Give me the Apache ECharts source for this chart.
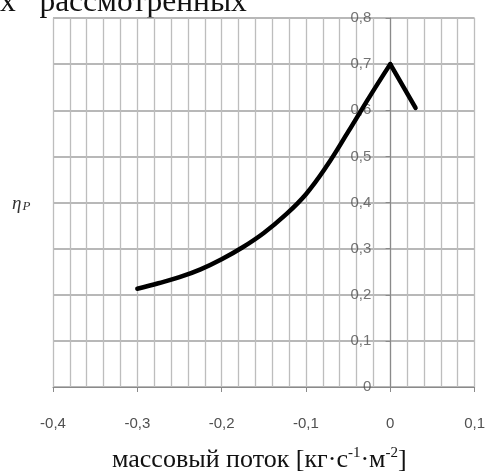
<!DOCTYPE html>
<html>
<head>
<meta charset="utf-8">
<script src="https://cdn.jsdelivr.net/npm/echarts@6/dist/echarts.min.js"></script>
<style>
  html, body { margin: 0; padding: 0; background: #fff; }
  #chart { width: 488px; height: 473px; }
</style>
</head>
<body>
<div id="chart"></div>
<script>
// Efficiency vs. mass flux: rising branch up to the peak at zero flux, then a short falling branch
const fluxRise = [-0.3, -0.275, -0.25, -0.225, -0.2, -0.175, -0.15, -0.125, -0.1, -0.075, -0.05, -0.025, 0];
const etaRise  = [0.213, 0.225, 0.238, 0.255, 0.277, 0.303, 0.334, 0.372, 0.418, 0.480, 0.553, 0.628, 0.70];
const fluxFall = [0, 0.03];
const etaFall  = [0.70, 0.605];

const xTicks = [-0.4, -0.3, -0.2, -0.1, 0, 0.1];
const yTicks = [0, 0.1, 0.2, 0.3, 0.4, 0.5, 0.6, 0.7, 0.8];

const fmt = v => String(Math.round(v * 10) / 10).replace('.', ',');

// plot area
const W = 488, H = 473;
const gridLeft = 53, gridRight = 13, gridTop = 18, gridBottom = 86;
const xMin = xTicks[0], xMax = xTicks[xTicks.length - 1];
// the vertical axis crosses the horizontal one at flux = 0
const yAxisShift = (0 - xMin) / (xMax - xMin) * (W - gridLeft - gridRight);

const chart = echarts.init(document.getElementById('chart'), null, { renderer: 'canvas' });

const gridColV = '#bdbdbd';
const gridColH = '#a0a0a0';
const axisCol = '#8a8a8a';
const labelFont = { color: '#505050', fontFamily: 'Liberation Sans', fontSize: 15 };

chart.setOption({
  animation: false,
  backgroundColor: '#ffffff',
  grid: { left: gridLeft, right: gridRight, top: gridTop, bottom: gridBottom, containLabel: false },
  xAxis: {
    type: 'value',
    min: xMin,
    max: xMax,
    interval: 0.1,
    axisLine: { show: true, onZero: false, lineStyle: { color: axisCol, width: 1.2 } },
    axisTick: { show: true, length: 5, inside: false, lineStyle: { color: axisCol } },
    minorTick: { show: false, splitNumber: 5 },
    splitLine: { show: true, lineStyle: { color: gridColV, width: 1.3 } },
    minorSplitLine: { show: true, lineStyle: { color: gridColV, width: 1.3 } },
    axisLabel: Object.assign({ margin: 29, formatter: fmt, showMinLabel: true, showMaxLabel: true }, labelFont)
  },
  yAxis: {
    type: 'value',
    position: 'left',
    offset: -yAxisShift,
    min: yTicks[0],
    max: yTicks[yTicks.length - 1],
    interval: 0.1,
    axisLine: { show: true, onZero: false, lineStyle: { color: axisCol, width: 1.2 } },
    axisTick: { show: true, length: 5, lineStyle: { color: axisCol } },
    splitLine: { show: true, lineStyle: { color: gridColH, width: 1.6 } },
    axisLabel: { show: false }
  },
  series: [
    {
      type: 'line',
      data: fluxRise.map((x, i) => [x, etaRise[i]]),
      smooth: 0.4,
      symbol: 'none',
      lineStyle: { color: '#000', width: 4.5, cap: 'round', join: 'round' },
      z: 5
    },
    {
      type: 'line',
      data: fluxFall.map((x, i) => [x, etaFall[i]]),
      symbol: 'none',
      lineStyle: { color: '#000', width: 4.5, cap: 'round', join: 'round' },
      z: 5
    },
    {
      // tick labels of the vertical axis, set just left of the zero-flux line
      type: 'scatter',
      data: yTicks.map(v => [0, v]),
      symbolSize: 0,
      silent: true,
      z: 4,
      label: Object.assign({
        show: true,
        position: 'left',
        distance: 19,
        formatter: p => fmt(p.value[1])
      }, labelFont)
    }
  ],
  graphic: [
    {
      type: 'text',
      left: 0,
      top: -13,
      style: {
        text: 'х   рассмотренных',
        font: '31.5px "Liberation Serif"',
        fill: '#111'
      },
      silent: true
    },
    {
      type: 'text',
      left: 12,
      top: 194,
      style: {
        text: '{eta|η}{sub|P}',
        rich: {
          eta: { font: 'italic 19px "Liberation Serif"', fill: '#333' },
          sub: { font: 'italic 13px "Liberation Serif"', fill: '#333', padding: [6, 0, 0, 1] }
        }
      },
      silent: true
    },
    {
      type: 'text',
      left: 112,
      top: 446,
      style: {
        text: '{t|массовый поток [кг·с}{s|-1}{t|·м}{s|-2}{t|]}',
        rich: {
          t: { font: '26px "Liberation Serif"', fill: '#111' },
          s: { font: '15px "Liberation Serif"', fill: '#111', padding: [0, 0, 13, 0] }
        }
      },
      silent: true
    }
  ]
});
</script>
</body>
</html>
